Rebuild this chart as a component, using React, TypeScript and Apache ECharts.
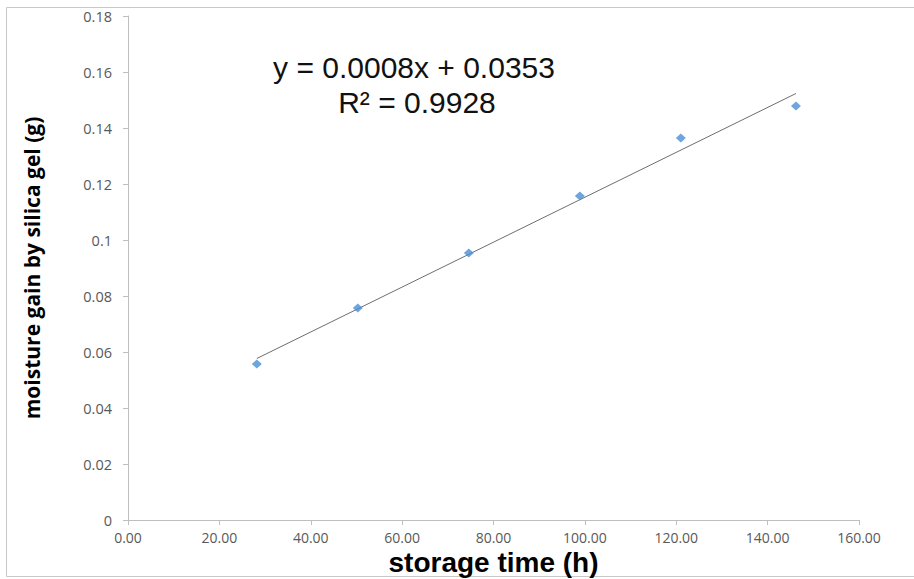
import React, { useEffect, useRef } from "react";
import * as echarts from "echarts";

const storageTime = [28.2, 50.3, 74.6, 98.9, 121.0, 146.2];
const moistureGain = [0.0557, 0.0757, 0.0954, 0.1157, 0.1364, 0.1479];
const equationLines = ["y = 0.0008x + 0.0353", "R² = 0.9928"];
const xTitle = "storage time (h)";
const yTitle = "moisture gain by silica gel (g)";

function fitLine(xs: number[], ys: number[]) {
  const n = xs.length;
  const mx = xs.reduce((a, b) => a + b, 0) / n;
  const my = ys.reduce((a, b) => a + b, 0) / n;
  let sxy = 0, sxx = 0;
  for (let i = 0; i < n; i++) {
    sxy += (xs[i] - mx) * (ys[i] - my);
    sxx += (xs[i] - mx) * (xs[i] - mx);
  }
  const b = sxy / sxx;
  return { b, a: my - b * mx };
}

export default function App() {
  const ref = useRef<HTMLDivElement>(null);
  useEffect(() => {
    document.body.style.margin = "0";
    if (!ref.current) return;
    const chart = echarts.init(ref.current, null, { renderer: "svg" });
    const { a, b } = fitLine(storageTime, moistureGain);
    const xMin = Math.min(...storageTime);
    const xMax = Math.max(...storageTime);
    const font = "'Open Sans', 'DejaVu Sans', sans-serif";
    const eqFont = "'Liberation Sans', Arial, sans-serif";
    chart.setOption({
      animation: false,
      backgroundColor: "#ffffff",
      grid: {
        left: 128,
        top: 16,
        right: 55,
        bottom: 59,
        containLabel: false,
        outerBoundsMode: "none",
      },
      xAxis: {
        type: "value",
        min: 0,
        max: 160,
        interval: 20,
        name: xTitle,
        nameLocation: "middle",
        nameGap: 27,
        nameMoveOverlap: false,
        nameTextStyle: {
          fontFamily: eqFont,
          fontWeight: "bold",
          fontSize: 28,
          lineHeight: 31,
          color: "#000",
        },
        axisLine: { lineStyle: { color: "#bfbfbf", width: 1 } },
        axisTick: { show: true, length: 5, lineStyle: { color: "#bfbfbf" } },
        axisLabel: {
          fontFamily: font,
          fontSize: 14,
          color: "#595959",
          margin: 10,
          formatter: (v: number) => v.toFixed(2),
        },
        splitLine: { show: false },
      },
      yAxis: {
        type: "value",
        min: 0,
        max: 0.18,
        interval: 0.02,
        name: yTitle,
        nameLocation: "middle",
        nameGap: 86,
        nameRotate: 90,
        nameMoveOverlap: false,
        nameTextStyle: { fontFamily: font, fontWeight: "bold", fontSize: 21, color: "#000" },
        axisLine: { show: true, lineStyle: { color: "#bfbfbf", width: 1 } },
        axisTick: { show: true, length: 5, lineStyle: { color: "#bfbfbf" } },
        axisLabel: {
          fontFamily: font,
          fontSize: 14.5,
          color: "#595959",
          margin: 16,
          formatter: (v: number) => String(parseFloat(v.toFixed(2))),
        },
        splitLine: { show: false },
      },
      series: [
        {
          type: "line",
          data: [
            [xMin, a + b * xMin],
            [xMax, a + b * xMax],
          ],
          symbol: "none",
          lineStyle: { color: "#6e6e6e", width: 1 },
          z: 2,
        },
        {
          type: "scatter",
          data: storageTime.map((x, i) => [x, moistureGain[i]]),
          symbol: "diamond",
          symbolSize: [10, 9],
          itemStyle: { color: "#4a8fd6" },
          z: 3,
        },
      ],
      graphic: [
        {
          type: "rect",
          shape: { x: 6.5, y: 7.5, width: 920, height: 569 },
          style: { fill: "none", stroke: "#c8c8c8", lineWidth: 1 },
          silent: true,
          z: -1,
        },
        {
          type: "text",
          x: 414,
          y: 67,
          style: {
            text: equationLines[0],
            fontFamily: eqFont,
            fontSize: 30,
            lineHeight: 30,
            fill: "#111",
            align: "center",
            verticalAlign: "middle",
          },
        },
        {
          type: "text",
          x: 417,
          y: 102,
          style: {
            text: equationLines[1],
            fontFamily: eqFont,
            fontSize: 30,
            lineHeight: 30,
            fill: "#111",
            align: "center",
            verticalAlign: "middle",
          },
        },
      ],
    });
    return () => chart.dispose();
  }, []);
  return <div ref={ref} style={{ width: 914, height: 579 }} />;
}
